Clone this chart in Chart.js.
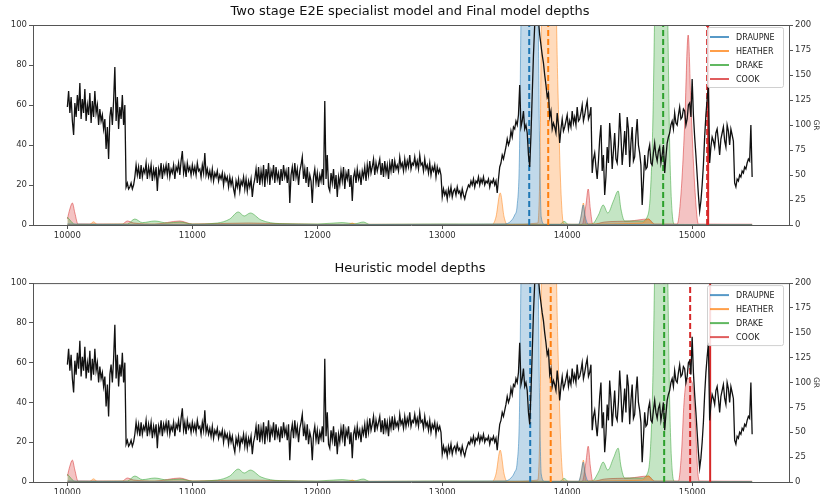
<!DOCTYPE html>
<html>
<head>
<meta charset="utf-8">
<script src="https://cdn.jsdelivr.net/npm/chart.js@4.4.1/dist/chart.umd.min.js"></script>
<style>
  html, body { margin: 0; padding: 0; background: #fff; }
  canvas { display: block; }
</style>
</head>
<body>
<canvas id="e2eChart" width="820" height="247"></canvas>
<canvas id="heurChart" width="820" height="247"></canvas>
<script>
// GR log, one reading every 10 ft from 10000 ft (each row = 500 ft)
const grDepthStart = 10000;
const grDepthStep = 10;
const grValues = [
  118,134,112,128,104,90,122,108,130,114, 142,106,126,112,136,104,120,110,132,102, 124,108,134,112,120,100,116,104,110,96, 106,76,98,66,108,118,100,124,158,104, 128,96,118,106,130,100,120,38,42,36,
  38,42,36,40,48,60,50,58,46,60, 48,56,52,62,46,58,50,60,44,56, 48,58,34,56,50,62,46,58,52,60, 50,62,48,56,52,60,46,58,54,62, 50,64,74,52,60,48,62,54,58,50,
  60,52,58,50,62,54,56,48,60,52, 72,50,56,48,54,46,56,44,52,48, 54,44,50,46,52,40,50,44,48,38, 48,40,46,36,30,44,38,46,34,44, 40,48,36,46,34,44,38,46,28,40,
  46,56,42,58,40,54,44,60,38,56, 46,62,40,54,48,60,42,58,46,52, 40,56,44,60,48,54,42,58,22,50, 58,44,62,48,56,40,54,60,68,46, 56,42,58,38,50,44,22,48,56,42,
  52,38,50,44,56,40,124,46,70,38, 34,52,42,56,36,50,28,48,40,54, 44,58,36,52,46,56,38,50,24,48, 54,42,56,46,52,40,54,48,58,44, 60,50,64,52,58,66,50,62,54,60,
  66,50,62,48,64,52,60,46,62,54, 66,52,64,56,60,54,68,58,62,54, 66,56,64,58,70,56,62,60,68,58, 64,56,70,60,62,54,66,56,60,52, 62,50,58,54,60,48,58,52,56,50,
  28,36,30,34,26,36,30,38,28,34, 36,30,38,32,34,28,36,30,26,32, 36,40,38,44,40,46,38,44,42,48, 40,46,42,48,40,44,42,46,38,44, 42,46,40,44,32,46,58,62,70,66,
  72,78,86,80,84,94,88,98,96,104, 100,110,140,98,104,114,96,100,92,70, 58,90,130,170,200,212,215,205,190,180, 170,162,150,140,128,132,108,114,96,102, 98,92,112,100,82,96,106,94,98,104,
  110,96,104,98,114,102,108,100,118,104, 106,112,120,104,110,118,124,106,110,118, 52,66,72,58,46,64,86,100,54,70, 30,48,78,62,102,84,56,74,92,66, 62,80,112,90,60,76,94,70,108,96,
  58,82,98,64,68,90,106,80,72,60, 20,44,70,56,58,74,80,62,60,72, 82,70,64,74,78,62,70,80,52,68, 82,88,92,100,104,96,112,102,100,110, 118,106,108,116,114,100,106,120,122,108,
  146,110,88,70,50,30,14,24,40,60, 88,110,126,140,62,78,88,84,78,92, 96,84,70,86,92,98,84,78,100,94, 80,96,90,84,42,38,46,44,50,48, 54,52,58,56,62,66,64,100,48
];

const formations = ['DRAUPNE', 'HEATHER', 'DRAKE', 'COOK'];
const formationColors = ['31,119,180', '255,127,14', '44,160,44', '214,39,40'];

// density curves [depth, density] (left axis)
const e2eDraupne = [[10000,0.5],[10500,0.2],[12000,0.2],[13000,0.3],[13500,0.5],[13550,2],[13580,5],[13600,10],[13618,35],[13632,110],[13700,175],[13760,140],[13778,45],[13792,4],[13820,0.3],[14090,0.3],[14110,4],[14128,10],[14145,4],[14170,0.3],[15480,0.2]];
const e2eHeather = [[10000,0.3],[10180,0.3],[10208,1.6],[10240,0.3],[12250,0.3],[12280,1],[12310,0.3],[13400,0.3],[13430,4],[13464,16],[13495,4],[13520,0.3],[13765,1],[13782,30],[13798,120],[13890,160],[13925,70],[13945,25],[13962,4],[13975,0.5],[14095,0.3],[14115,6],[14130,11],[14150,0.5],[14600,1],[14650,3],[14690,0.3],[15480,0.2]];
const e2eDrake = [[10000,4],[10020,2.5],[10060,0.3],[10480,0.5],[10540,3],[10600,1.2],[10700,2],[10800,1],[10900,1.5],[11000,0.5],[11200,1],[11300,3],[11368,6.5],[11415,4.5],[11464,6],[11550,2.5],[11700,0.7],[12000,0.5],[12200,1.2],[12300,0.6],[12368,1.5],[12420,0.3],[13000,0.5],[13940,0.3],[13975,1.8],[14010,0.3],[14200,0.5],[14250,5],[14288,10],[14325,6],[14370,12],[14408,17],[14430,8],[14460,2],[14600,2],[14640,4],[14665,15],[14685,50],[14705,120],[14765,170],[14800,120],[14820,40],[14840,6],[14860,0.3],[15480,0.2]];
const e2eCook = [[10000,3],[10020,8],[10040,11],[10060,6],[10085,0.5],[10440,0.5],[10480,2],[10530,1],[10700,0.5],[10900,2],[11000,0.5],[11450,1],[12000,0.3],[14120,0.3],[14150,10],[14168,18],[14185,8],[14205,0.3],[14300,1.5],[14500,2],[14650,3],[14700,0.5],[14880,0.5],[14910,15],[14940,50],[14968,95],[14990,60],[15020,20],[15050,0.5],[15480,0.4]];
const heurCook = [[10000,3],[10020,8],[10040,11],[10060,6],[10085,0.5],[10440,0.5],[10480,2],[10530,1],[10700,0.5],[10900,2],[11000,0.5],[11450,1],[12000,0.3],[14120,0.3],[14150,10],[14168,18],[14185,8],[14205,0.3],[14300,1.5],[14500,2],[14650,3],[14700,0.5],[14890,0.5],[14915,15],[14935,40],[14960,52],[15000,50],[15025,30],[15045,5],[15060,0.5],[15480,0.4]];

// picked tops (dashed) and cook top (solid)
const e2eTops = [13696, 13848, 14768, 15120];
const e2eCookLine = 15128;
const heurTops = [13704, 13868, 14776, 14984];
const heurCookLine = 15144;

const depthTicks = [10000, 11000, 12000, 13000, 14000, 15000];
const leftTicks = [0, 20, 40, 60, 80, 100];
const grTicks = [0, 25, 50, 75, 100, 125, 150, 175, 200];

Chart.defaults.font.family = 'DejaVu Sans';
Chart.defaults.color = '#333';

const frameAndLegend = {
  id: 'frameAndLegend',
  afterDraw(chart) {
    const ctx = chart.ctx, a = chart.chartArea;
    ctx.save();
    ctx.strokeStyle = '#555';
    ctx.lineWidth = 1;
    ctx.beginPath();
    ctx.moveTo(a.left, a.top + 0.5);
    ctx.lineTo(a.right, a.top + 0.5);
    ctx.stroke();

    // legend box
    const w = 76, h = 60;
    const bx = a.right - 6 - w, by = a.top + 2;
    ctx.fillStyle = 'rgba(255,255,255,0.85)';
    ctx.strokeStyle = '#d0d0d0';
    ctx.beginPath();
    ctx.roundRect(bx + 0.5, by + 0.5, w, h, 2);
    ctx.fill();
    ctx.stroke();
    ctx.font = '8px DejaVu Sans';
    ctx.textBaseline = 'middle';
    formations.forEach((name, i) => {
      const yy = by + 10 + i * 14;
      ctx.strokeStyle = 'rgba(' + formationColors[i] + ',0.75)';
      ctx.lineWidth = 2;
      ctx.beginPath();
      ctx.moveTo(bx + 3, yy);
      ctx.lineTo(bx + 22, yy);
      ctx.stroke();
      ctx.fillStyle = '#222';
      ctx.fillText(name, bx + 29, yy + 0.5);
    });
    ctx.restore();
  }
};

function makeChart(id, title, titlePad, xHeight, curves, tops, cookLine) {
  const grData = grValues.map((v, i) => ({ x: grDepthStart + i * grDepthStep, y: v }));
  const datasets = [{
    data: grData,
    yAxisID: 'y2',
    borderColor: '#111',
    borderWidth: 1.3,
    pointRadius: 0
  }];
  tops.forEach((d, i) => {
    datasets.push({
      data: [{ x: d, y: 0 }, { x: d, y: 100 }],
      yAxisID: 'y',
      borderColor: 'rgb(' + formationColors[i] + ')',
      borderWidth: 2,
      borderDash: [6, 3],
      pointRadius: 0
    });
  });
  datasets.push({
    data: [{ x: cookLine, y: 0 }, { x: cookLine, y: 100 }],
    yAxisID: 'y',
    borderColor: 'rgb(' + formationColors[3] + ')',
    borderWidth: 2,
    pointRadius: 0
  });
  curves.forEach((c, i) => {
    datasets.push({
      data: c.map(p => ({ x: p[0], y: p[1] })),
      yAxisID: 'y',
      borderColor: 'rgba(' + formationColors[i] + ',0.5)',
      backgroundColor: 'rgba(' + formationColors[i] + ',0.28)',
      borderWidth: 1,
      fill: 'origin',
      cubicInterpolationMode: 'monotone',
      pointRadius: 0
    });
  });

  const axisGrid = { drawOnChartArea: false, tickLength: 4, color: '#555' };
  const axisBorder = { color: '#555' };
  const plainTick = v => String(v);

  return new Chart(document.getElementById(id), {
    type: 'line',
    data: { datasets },
    options: {
      responsive: false,
      animation: false,
      devicePixelRatio: 1,
      layout: { padding: 0 },
      plugins: {
        legend: { display: false },
        tooltip: { enabled: false },
        title: {
          display: true,
          text: title,
          color: '#111',
          font: { size: 13, weight: 'normal', family: 'DejaVu Sans' },
          padding: titlePad
        }
      },
      scales: {
        x: {
          type: 'linear',
          min: 9725,
          max: 15775,
          afterBuildTicks: s => { s.ticks = depthTicks.map(v => ({ value: v })); },
          afterFit: s => { s.height = xHeight; },
          ticks: { font: { size: 8.5 }, maxRotation: 0, padding: 2, callback: plainTick },
          grid: axisGrid,
          border: axisBorder
        },
        y: {
          position: 'left',
          min: 0,
          max: 100,
          afterBuildTicks: s => { s.ticks = leftTicks.map(v => ({ value: v })); },
          afterFit: s => { s.width = 33; },
          ticks: { font: { size: 8.5 }, padding: 2, callback: plainTick },
          grid: axisGrid,
          border: axisBorder
        },
        y2: {
          position: 'right',
          min: 0,
          max: 200,
          afterBuildTicks: s => { s.ticks = grTicks.map(v => ({ value: v })); },
          afterFit: s => { s.width = 31; },
          ticks: { font: { size: 8.5 }, padding: 2, callback: plainTick },
          title: { display: true, text: 'GR', font: { size: 7.5 }, padding: 0 },
          grid: axisGrid,
          border: axisBorder
        }
      }
    },
    plugins: [frameAndLegend]
  });
}

makeChart('e2eChart', 'Two stage E2E specialist model and Final model depths',
  { top: 3.5, bottom: 5.9 }, 22,
  [e2eDraupne, e2eHeather, e2eDrake, e2eCook], e2eTops, e2eCookLine);

makeChart('heurChart', 'Heuristic model depths',
  { top: 13.5, bottom: 7 }, 12,
  [e2eDraupne, e2eHeather, e2eDrake, heurCook], heurTops, heurCookLine);
</script>
</body>
</html>
